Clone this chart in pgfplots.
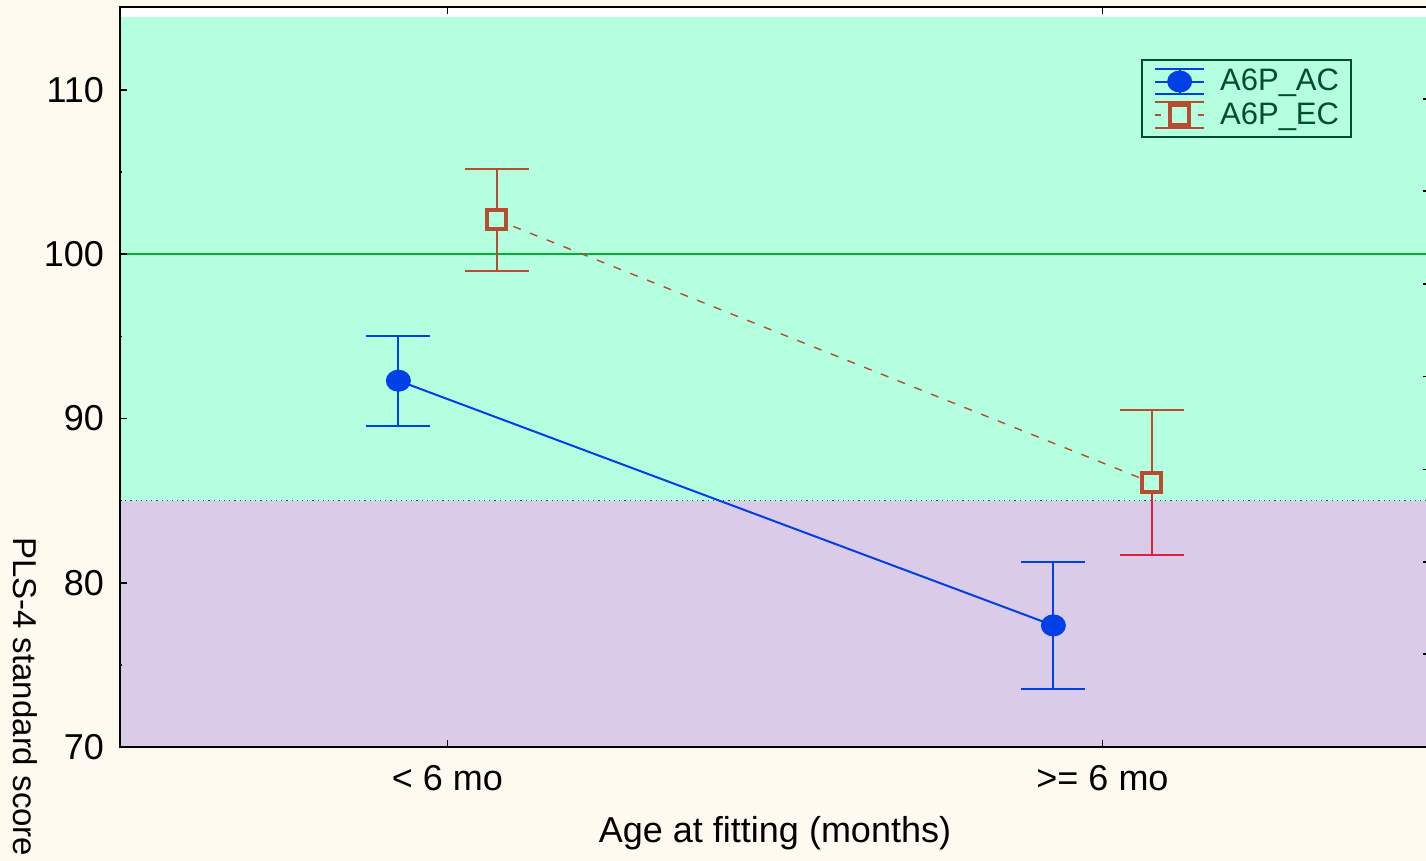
\documentclass[border=0pt]{standalone}
\usepackage{pgfplots}
\pgfplotsset{compat=1.18}
\usepackage{fontspec}
\setmainfont{Liberation Sans}
\definecolor{bgcream}{RGB}{255,250,240}
\definecolor{cgreen}{RGB}{179,255,224}
\definecolor{cpurple}{RGB}{218,203,232}
\definecolor{lineg}{RGB}{0,176,48}
\definecolor{dotgreen}{RGB}{0,100,50}
\definecolor{acblue}{RGB}{0,64,230}
\definecolor{ecbrown}{RGB}{184,76,48}
\definecolor{ecred}{RGB}{228,30,60}
\definecolor{legtext}{RGB}{0,77,50}
\begin{document}
\begin{tikzpicture}
\path[use as bounding box, fill=bgcream] (-60pt,-57pt) rectangle (653pt,373.5pt);
\begin{axis}[
  scale only axis, width=655pt, height=370pt,
  xmin=-0.5, xmax=1.5, ymin=70, ymax=115.05,
  axis background/.style={fill=white},
  axis on top,
  axis line style={line width=1pt, black},
  xtick={0,1}, xticklabels={{< 6 mo},{>= 6 mo}},
  ytick={70,80,...,110}, minor y tick num=1,
  tick align=inside, xtick pos=both, ytick pos=left,
  major tick length=3.5pt, minor tick length=1.2pt,
  every tick/.style={black, line width=0.8pt},
  ticklabel style={font=\fontsize{18}{20}\selectfont},
  yticklabel style={xshift=-4.5pt}, xticklabel style={yshift=-5.5pt},
  /pgf/number format/assume math mode=true,
  xlabel={Age at fitting (months)}, ylabel={PLS-4 standard score},
  every axis x label/.style={at={(axis description cs:0.5,-0.1165)}, anchor=center, font=\fontsize{18}{20}\selectfont},
  every axis y label/.style={at={(axis description cs:-0.0725,0.2932)}, anchor=west, rotate=-90, font=\fontsize{16.5}{18}\selectfont},
  legend cell align=left,
  legend style={at={(0.9405,0.9297)}, anchor=north east,
    font=\fontsize{15.5}{16}\selectfont, text=legtext, draw=legtext, line width=1pt, fill=cgreen,
    inner xsep=6pt, inner ysep=4pt, row sep=3pt,
    nodes={inner sep=0pt},
    /tikz/every odd column/.append style={column sep=7.5pt}},
]
% background bands
\addplot[draw=none, fill=cgreen, forget plot] coordinates {(-0.5,85) (1.5,85) (1.5,114.44) (-0.5,114.44)} -- cycle;
\addplot[draw=none, fill=cpurple, forget plot] coordinates {(-0.5,69.8) (1.5,69.8) (1.5,85) (-0.5,85)} -- cycle;
\addplot[lineg, line width=1pt, forget plot] coordinates {(-0.5,100) (1.5,100)};
\addplot[dotgreen, line width=0.6pt, dotted, forget plot] coordinates {(-0.5,85) (1.5,85)};
% AC
\addplot[acblue, line width=1pt, mark=*, mark options={solid, fill=acblue, mark size=5pt, xscale=1.15},
  legend image code/.code={
    \draw[solid, acblue, line width=1pt] (0pt,6.25pt) -- (24.5pt,6.25pt) (0pt,-6.25pt) -- (24.5pt,-6.25pt) (12.25pt,-6.25pt) -- (12.25pt,6.25pt) (0pt,0pt) -- (24.5pt,0pt);
    \fill[solid, acblue] (12.25pt,0pt) ellipse (5.75pt and 5pt);
  },
  error bars/.cd, y dir=both, y explicit,
  error bar style={line width=1pt, acblue},
  error mark options={rotate=90, mark size=16pt, line width=1pt, acblue}]
  coordinates {(-0.075,92.3) +- (0,2.75) (0.925,77.4) +- (0,3.85)};
\addlegendentry{A6P\_AC}
% EC error bars
\addplot[draw=none, mark=none, forget plot,
  error bars/.cd, y dir=both, y explicit,
  error bar style={line width=1pt, ecbrown},
  error mark options={rotate=90, mark size=16pt, line width=1pt, ecbrown}]
  coordinates {(0.075,102.1) +- (0,3.1)};
\addplot[draw=none, mark=none, forget plot,
  error bars/.cd, y dir=plus, y explicit,
  error bar style={line width=1pt, ecbrown},
  error mark options={rotate=90, mark size=16pt, line width=1pt, ecbrown}]
  coordinates {(1.075,86.1) +- (0,4.4)};
\addplot[draw=none, mark=none, forget plot,
  error bars/.cd, y dir=minus, y explicit,
  error bar style={line width=1pt, ecred},
  error mark options={rotate=90, mark size=16pt, line width=1pt, ecred}]
  coordinates {(1.075,86.1) +- (0,4.4)};
% EC
\addplot[ecbrown, line width=0.7pt, dash pattern=on 4pt off 5pt, mark=square*,
  mark options={solid, fill=cgreen, draw=ecbrown, line width=2pt, mark size=4.8pt},
  legend image code/.code={
    \draw[solid, ecbrown, line width=1pt] (0pt,6.5pt) -- (24.5pt,6.5pt) (0pt,-6.5pt) -- (24.5pt,-6.5pt) (12.25pt,-6.5pt) -- (12.25pt,6.5pt);
    \draw[solid, ecbrown, line width=0.7pt] (0pt,0pt) -- (3pt,0pt) (21.5pt,0pt) -- (24.5pt,0pt);
    \draw[solid, ecbrown, line width=2pt, fill=cgreen] (7.45pt,-4.8pt) rectangle (17.05pt,4.8pt);
  }]
  coordinates {(0.075,102.1) (1.075,86.1)};
\addlegendentry{A6P\_EC}
\end{axis}
\begin{axis}[
  scale only axis, width=655pt, height=370pt,
  xmin=-0.5, xmax=1.5, ymin=70, ymax=115.05,
  hide x axis, axis y line*=right, y axis line style={draw=none},
  ytick={75.67,81.28,86.89,92.56,98.17,103.84,109.45}, yticklabels={},
  tick align=inside, major tick length=3.5pt,
  every tick/.style={black, line width=0.8pt},
]
\addplot[draw=none] coordinates {(0,80)};
\end{axis}
\end{tikzpicture}
\end{document}
